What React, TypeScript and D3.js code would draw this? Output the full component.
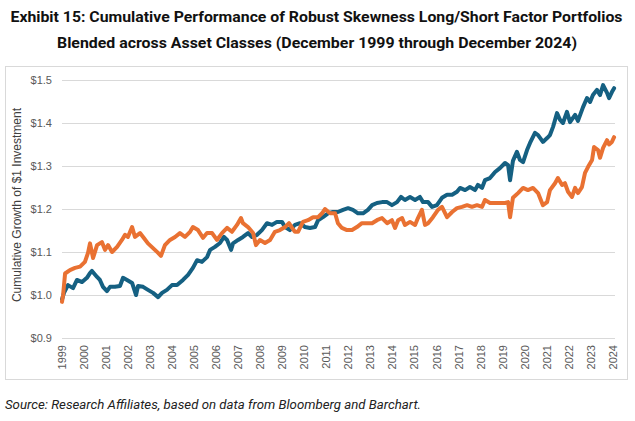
import React from "react";
import * as d3 from "d3";

// [decimal year, cumulative growth of $1]
const blueSeries: [number, number][] = [
  [1999.0, 0.99], [1999.09, 1.005], [1999.23, 1.019], [1999.27, 1.023], [1999.5, 1.016], [1999.68, 1.035],
  [1999.91, 1.03], [2000.13, 1.04], [2000.27, 1.051], [2000.36, 1.056], [2000.59, 1.042], [2000.72, 1.035],
  [2000.86, 1.019], [2001.04, 1.009], [2001.18, 1.019], [2001.4, 1.019], [2001.63, 1.021], [2001.77, 1.04],
  [2001.95, 1.035], [2002.18, 1.028], [2002.36, 1.0], [2002.45, 1.021], [2002.68, 1.019], [2002.9, 1.012],
  [2003.13, 1.005], [2003.36, 0.995], [2003.54, 1.005], [2003.76, 1.012], [2003.99, 1.023], [2004.22, 1.023],
  [2004.49, 1.035], [2004.72, 1.047], [2004.94, 1.063], [2005.13, 1.081], [2005.35, 1.077], [2005.58, 1.088],
  [2005.72, 1.105], [2005.94, 1.112], [2006.17, 1.121], [2006.35, 1.135], [2006.49, 1.128], [2006.67, 1.105],
  [2006.76, 1.12], [2006.99, 1.128], [2007.21, 1.135], [2007.44, 1.144], [2007.62, 1.135], [2007.85, 1.14],
  [2008.07, 1.151], [2008.3, 1.167], [2008.53, 1.163], [2008.75, 1.17], [2008.98, 1.17], [2009.12, 1.158],
  [2009.34, 1.151], [2009.57, 1.163], [2009.8, 1.167], [2010.03, 1.158], [2010.25, 1.156], [2010.48, 1.158],
  [2010.62, 1.174], [2010.84, 1.181], [2011.07, 1.19], [2011.3, 1.193], [2011.52, 1.193], [2011.75, 1.198],
  [2011.98, 1.202], [2012.2, 1.198], [2012.43, 1.19], [2012.66, 1.19], [2012.88, 1.198], [2013.07, 1.209],
  [2013.29, 1.214], [2013.52, 1.216], [2013.75, 1.216], [2013.97, 1.209], [2014.2, 1.216], [2014.38, 1.228],
  [2014.56, 1.221], [2014.79, 1.228], [2015.02, 1.221], [2015.24, 1.228], [2015.38, 1.216], [2015.61, 1.216],
  [2015.79, 1.205], [2016.01, 1.209], [2016.24, 1.226], [2016.47, 1.233], [2016.7, 1.233], [2016.92, 1.24],
  [2017.06, 1.249], [2017.29, 1.244], [2017.51, 1.251], [2017.74, 1.244], [2017.87, 1.256], [2018.06, 1.249],
  [2018.19, 1.267], [2018.42, 1.272], [2018.65, 1.286], [2018.87, 1.295], [2019.1, 1.307], [2019.24, 1.302],
  [2019.33, 1.267], [2019.46, 1.312], [2019.64, 1.333], [2019.78, 1.314], [2019.92, 1.309], [2020.1, 1.337],
  [2020.23, 1.353], [2020.46, 1.377], [2020.6, 1.372], [2020.82, 1.356], [2021.01, 1.365], [2021.14, 1.372],
  [2021.28, 1.391], [2021.46, 1.423], [2021.6, 1.407], [2021.73, 1.4], [2021.91, 1.426], [2022.05, 1.402],
  [2022.28, 1.419], [2022.41, 1.405], [2022.64, 1.437], [2022.82, 1.458], [2022.96, 1.449], [2023.09, 1.465],
  [2023.27, 1.477], [2023.41, 1.465], [2023.55, 1.488], [2023.73, 1.47], [2023.82, 1.458], [2023.95, 1.472],
  [2024.05, 1.481],
];

const orangeSeries: [number, number][] = [
  [1999.0, 0.984], [1999.05, 1.0], [1999.14, 1.05], [1999.36, 1.058], [1999.59, 1.063], [1999.82, 1.066],
  [2000.04, 1.077], [2000.18, 1.098], [2000.27, 1.12], [2000.41, 1.086], [2000.59, 1.116], [2000.81, 1.123],
  [2000.95, 1.105], [2001.09, 1.116], [2001.27, 1.1], [2001.5, 1.112], [2001.72, 1.128], [2001.86, 1.14],
  [2001.99, 1.135], [2002.18, 1.158], [2002.31, 1.135], [2002.54, 1.144], [2002.68, 1.135], [2002.9, 1.12],
  [2003.13, 1.109], [2003.36, 1.098], [2003.49, 1.091], [2003.67, 1.116], [2003.9, 1.128], [2004.13, 1.135],
  [2004.35, 1.144], [2004.58, 1.135], [2004.81, 1.147], [2004.94, 1.158], [2005.17, 1.151], [2005.4, 1.133],
  [2005.58, 1.144], [2005.81, 1.144], [2006.03, 1.128], [2006.26, 1.144], [2006.49, 1.156], [2006.71, 1.147],
  [2006.94, 1.163], [2007.12, 1.179], [2007.21, 1.167], [2007.44, 1.158], [2007.67, 1.144], [2007.8, 1.116],
  [2007.98, 1.128], [2008.21, 1.121], [2008.44, 1.128], [2008.66, 1.147], [2008.89, 1.151], [2009.12, 1.158],
  [2009.3, 1.167], [2009.44, 1.156], [2009.57, 1.147], [2009.71, 1.147], [2009.93, 1.17], [2010.16, 1.174],
  [2010.39, 1.181], [2010.62, 1.181], [2010.8, 1.19], [2010.93, 1.2], [2011.16, 1.19], [2011.39, 1.19],
  [2011.52, 1.167], [2011.7, 1.156], [2011.93, 1.151], [2012.16, 1.151], [2012.38, 1.158], [2012.61, 1.167],
  [2012.84, 1.167], [2013.07, 1.167], [2013.29, 1.174], [2013.52, 1.179], [2013.75, 1.167], [2013.97, 1.174],
  [2014.11, 1.156], [2014.25, 1.174], [2014.43, 1.179], [2014.56, 1.163], [2014.79, 1.17], [2015.02, 1.163],
  [2015.15, 1.179], [2015.33, 1.198], [2015.47, 1.163], [2015.61, 1.167], [2015.83, 1.181], [2016.06, 1.198],
  [2016.24, 1.205], [2016.47, 1.181], [2016.7, 1.193], [2016.92, 1.202], [2017.15, 1.205], [2017.38, 1.209],
  [2017.6, 1.205], [2017.83, 1.209], [2018.06, 1.205], [2018.19, 1.221], [2018.42, 1.214], [2018.65, 1.214],
  [2018.87, 1.214], [2019.1, 1.214], [2019.24, 1.216], [2019.33, 1.181], [2019.46, 1.226], [2019.69, 1.237],
  [2019.92, 1.249], [2020.14, 1.244], [2020.37, 1.249], [2020.6, 1.237], [2020.82, 1.209], [2021.01, 1.216],
  [2021.14, 1.244], [2021.37, 1.26], [2021.5, 1.272], [2021.69, 1.256], [2021.82, 1.26], [2021.96, 1.24],
  [2022.14, 1.228], [2022.28, 1.249], [2022.41, 1.237], [2022.59, 1.251], [2022.73, 1.284], [2022.87, 1.298],
  [2023.05, 1.314], [2023.14, 1.344], [2023.32, 1.337], [2023.41, 1.319], [2023.55, 1.342], [2023.73, 1.36],
  [2023.82, 1.35], [2023.95, 1.356], [2024.05, 1.367],
];

const yTickValues = [0.9, 1.0, 1.1, 1.2, 1.3, 1.4, 1.5];
const yTickLabels = ["$0.9", "$1.0", "$1.1", "$1.2", "$1.3", "$1.4", "$1.5"];
const xTickYears = [
  1999, 2000, 2001, 2002, 2003, 2004, 2005, 2006, 2007, 2008, 2009, 2010, 2011, 2012,
  2013, 2014, 2015, 2016, 2017, 2018, 2019, 2020, 2021, 2022, 2023, 2024,
];

const titleLines = [
  "Exhibit 15: Cumulative Performance of Robust Skewness Long/Short Factor Portfolios",
  "Blended across Asset Classes (December 1999 through December 2024)",
];
const yAxisTitle = "Cumulative Growth of $1 Investment";
const sourceText = "Source: Research Affiliates, based on data from Bloomberg and Barchart.";

const BLUE = "#156082";
const ORANGE = "#E97132";

export default function App() {
  const W = 635;
  const H = 421;
  const x = d3.scaleLinear().domain([1999, 2024]).range([62, 613]);
  const y = d3.scaleLinear().domain([0.9, 1.5]).range([338, 80]);
  const line = d3
    .line<[number, number]>()
    .x((d) => x(d[0]))
    .y((d) => y(d[1]));
  const sans = "'Liberation Sans', Arial, sans-serif";
  const titleFont = "Roboto, 'Liberation Sans', sans-serif";

  return (
    <div style={{ width: W, height: H }}>
      <style>{`body{margin:0;background:#fff}`}</style>
      <svg width={W} height={H} style={{ display: "block" }}>
        <rect x={0} y={0} width={W} height={H} fill="#fff" />
        {/* title */}
        <text x={316.5} y={22} textAnchor="middle" fontFamily={titleFont} fontWeight={700} fontSize={14.5} fill="#111" textLength={612} lengthAdjust="spacingAndGlyphs">
          {titleLines[0]}
        </text>
        <text x={317} y={48} textAnchor="middle" fontFamily={titleFont} fontWeight={700} fontSize={14.5} fill="#111" textLength={520} lengthAdjust="spacingAndGlyphs">
          {titleLines[1]}
        </text>
        {/* chart frame */}
        <rect x={5.5} y={66.5} width={622} height={313} fill="none" stroke="#d9d9d9" strokeWidth={1} />
        {/* gridlines */}
        {yTickValues.map((v, i) => (
          <g key={"yt" + i}>
            <line x1={62} x2={615} y1={Math.round(y(v)) + 0.5} y2={Math.round(y(v)) + 0.5} stroke="#d9d9d9" strokeWidth={1} />
            <text x={52} y={y(v)} dy="0.35em" textAnchor="end" fontFamily={sans} fontSize={11} fill="#595959">
              {yTickLabels[i]}
            </text>
          </g>
        ))}
        {/* x tick labels */}
        {xTickYears.map((yr) => (
          <text
            key={"xt" + yr}
            transform={`translate(${x(yr)},345) rotate(-90)`}
            dy="0.35em"
            textAnchor="end"
            fontFamily={sans}
            fontSize={11}
            fill="#595959"
          >
            {yr}
          </text>
        ))}
        {/* y axis title */}
        <text transform={`translate(17,205) rotate(-90)`} dy="0.35em" textAnchor="middle" fontFamily={sans} fontSize={12} fill="#404040">
          {yAxisTitle}
        </text>
        {/* series */}
        <path d={line(blueSeries) || ""} fill="none" stroke={BLUE} strokeWidth={4} strokeLinejoin="round" strokeLinecap="round" />
        <path d={line(orangeSeries) || ""} fill="none" stroke={ORANGE} strokeWidth={4} strokeLinejoin="round" strokeLinecap="round" />
        {/* source */}
        <text x={5} y={409} fontFamily={titleFont} fontStyle="italic" fontSize={12} fill="#222" textLength={416} lengthAdjust="spacingAndGlyphs">
          {sourceText}
        </text>
      </svg>
    </div>
  );
}
